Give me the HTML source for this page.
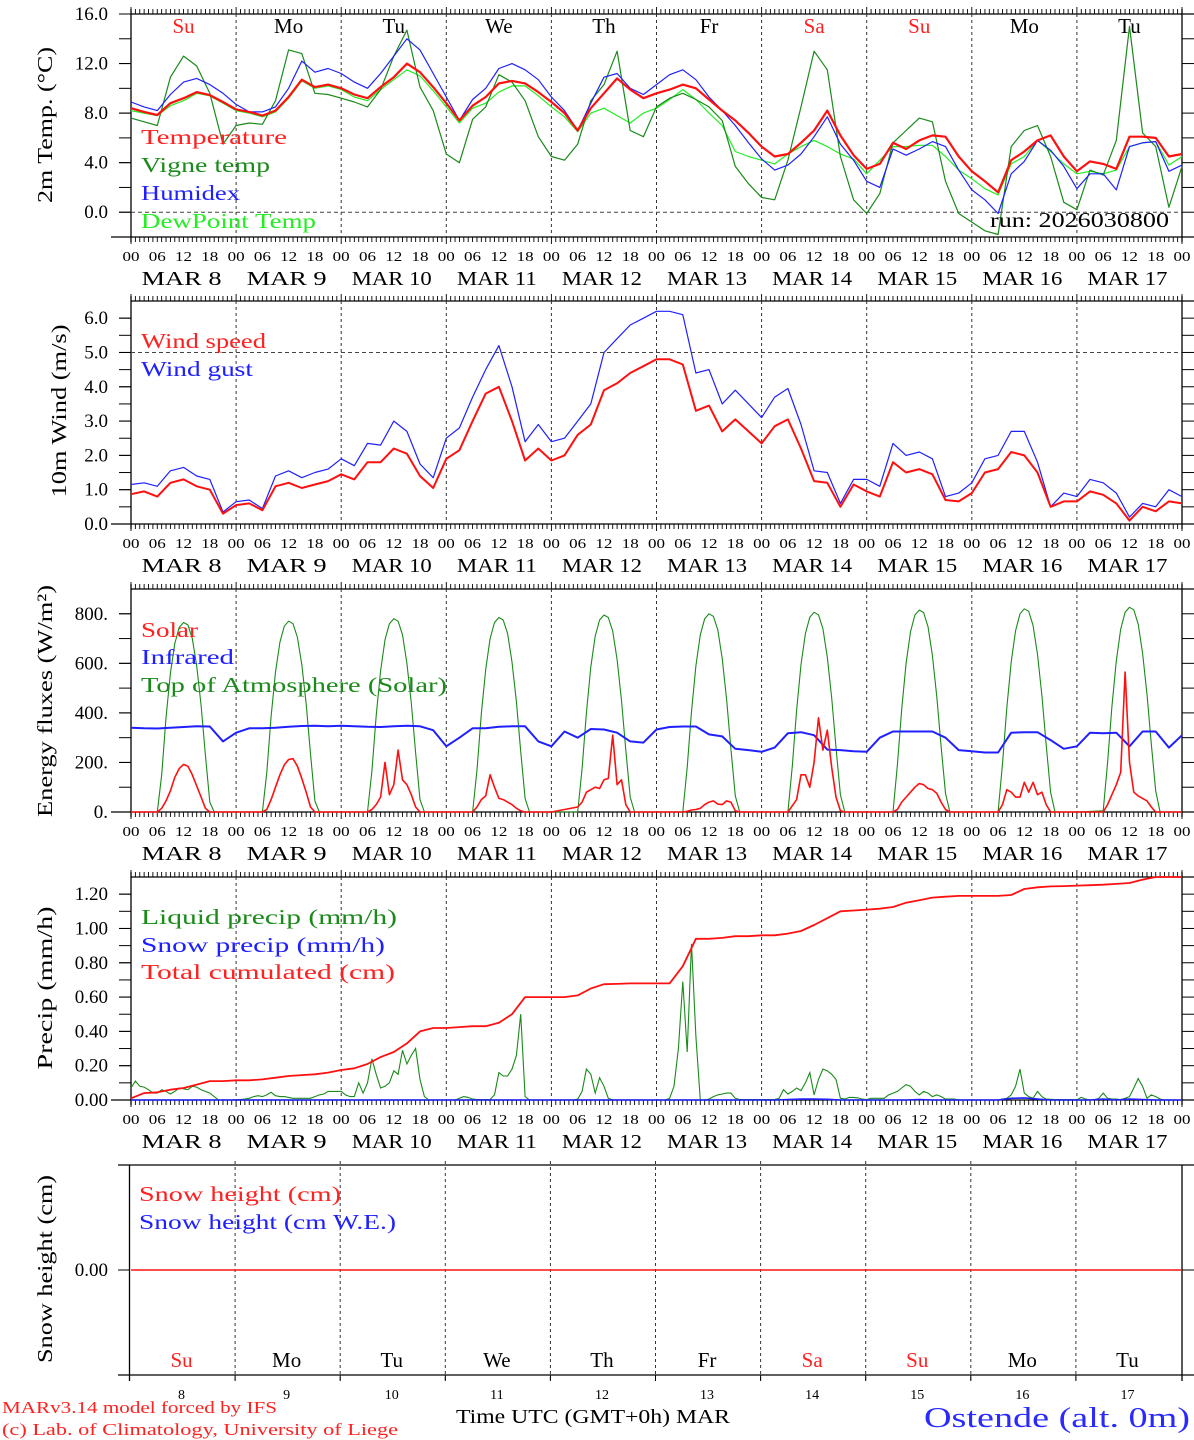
<!DOCTYPE html>
<html><head><meta charset="utf-8"><title>Meteogram Ostende</title>
<style>
html,body{margin:0;padding:0;background:#fff;}
svg{display:block;font-family:"Liberation Serif","DejaVu Serif",serif;}
</style></head>
<body>
<svg id="chart" xmlns="http://www.w3.org/2000/svg" width="1194" height="1440" viewBox="0 0 1194 1440"></svg>
<script>
// ---------- DATA ----------
const dayNames = ["Su","Mo","Tu","We","Th","Fr","Sa","Su","Mo","Tu"];
const dayNums = ["8","9","10","11","12","13","14","15","16","17"];
const hourTicks = ["00","06","12","18"];
// 3-hourly series (81 points, Mar 8 00h .. Mar 18 00h)
const temperature = [8.4,8.1,7.85,8.8,9.2,9.7,9.45,8.9, 8.3,8.1,7.8,8.2,9.3,10.7,10.1,10.3, 10.0,9.5,9.2,10.1,10.9,12.0,11.3,10.1, 8.8,7.4,8.6,9.3,10.4,10.6,10.4,9.7, 8.9,8.0,6.6,8.4,9.6,10.8,9.9,9.2, 9.6,9.9,10.3,10.0,9.1,8.2,7.4,6.4, 5.3,4.5,4.7,5.6,6.6,8.2,6.2,4.6, 3.5,3.9,5.6,5.1,5.8,6.2,6.1,4.5, 3.3,2.5,1.6,4.2,4.9,5.8,6.2,4.5, 3.3,4.1,3.9,3.5,6.1,6.1,6.0,4.5, 4.7];
const humidex = [8.9,8.5,8.2,9.5,10.5,10.8,10.3,9.6, 8.7,8.1,8.1,8.5,10.0,12.2,11.3,11.6, 11.2,10.5,10.0,11.2,12.6,14.0,13.1,11.2, 9.3,7.4,9.1,10.0,11.6,12.0,11.5,10.7, 9.3,8.2,6.6,8.8,10.9,11.2,10.0,9.5, 10.3,11.1,11.5,10.7,9.3,8.2,7.0,5.6, 4.3,3.4,3.8,4.7,6.1,7.7,5.5,4.2, 2.5,2.0,5.1,4.6,5.1,5.7,5.3,3.4, 1.8,1.0,-0.1,3.1,4.1,5.8,5.0,3.7, 1.9,3.1,3.1,1.8,5.3,5.6,5.7,3.3, 3.8];
const dewpoint = [8.2,8.0,7.8,8.6,9.0,9.6,9.4,8.8, 8.2,8.0,7.7,8.1,9.2,10.6,10.0,10.2, 9.9,9.3,9.0,9.9,10.7,11.5,11.0,9.8, 8.5,7.2,8.4,8.8,9.7,10.2,10.2,9.4, 8.5,7.7,6.5,8.0,8.4,7.8,7.2,8.0, 8.4,9.1,9.9,9.1,8.0,7.0,4.9,4.5, 4.2,3.9,4.7,5.3,5.8,5.3,4.7,4.3, 3.1,4.2,5.3,5.3,5.4,5.4,4.5,3.4, 2.7,1.9,1.4,3.9,4.5,5.8,4.9,3.9, 3.1,3.3,3.1,3.4,5.3,5.6,5.7,3.8, 4.5];
const vigne = [7.6,7.3,7.0,10.9,12.6,11.8,9.6,5.5, 7.0,7.2,7.1,9.0,13.1,12.8,9.6,9.5, 9.2,8.9,8.5,9.9,12.6,14.7,10.1,8.2, 4.7,4.0,7.5,8.5,11.1,10.5,9.0,6.1, 4.5,4.2,5.5,9.0,10.3,13.0,6.6,6.1, 8.5,9.2,9.6,9.1,8.5,7.4,3.7,2.3, 1.2,1.0,4.2,8.5,13.0,11.5,4.5,1.0, -0.1,1.5,5.6,6.6,7.6,7.3,2.5,-0.1, -0.8,-1.5,-1.8,5.3,6.6,7.0,4.5,0.8, 0.2,3.4,3.0,5.8,15.0,6.4,5.3,0.4, 3.7];
const windSpeed = [0.87,0.95,0.8,1.2,1.3,1.1,1.0,0.3, 0.55,0.6,0.4,1.1,1.2,1.05,1.15,1.25, 1.45,1.3,1.8,1.8,2.2,2.05,1.4,1.05, 1.9,2.15,3.0,3.8,4.0,3.0,1.85,2.2, 1.85,2.0,2.6,2.9,3.9,4.1,4.4,4.6, 4.8,4.8,4.65,3.3,3.45,2.7,3.05,2.7, 2.35,2.85,3.05,2.2,1.25,1.2,0.5,1.15, 0.95,0.8,1.8,1.5,1.6,1.45,0.7,0.66, 0.9,1.5,1.6,2.1,2.0,1.5,0.5,0.66, 0.66,0.95,0.85,0.6,0.1,0.5,0.37,0.66, 0.6];
const windGust = [1.15,1.2,1.1,1.55,1.65,1.4,1.3,0.35, 0.65,0.7,0.45,1.4,1.55,1.35,1.5,1.6, 1.9,1.7,2.35,2.3,3.0,2.7,1.75,1.35, 2.5,2.8,3.7,4.5,5.2,4.0,2.4,2.9, 2.4,2.5,3.0,3.5,5.0,5.4,5.8,6.0, 6.2,6.2,6.1,4.4,4.5,3.5,3.9,3.5, 3.1,3.7,3.95,2.9,1.55,1.5,0.6,1.3, 1.3,1.1,2.35,2.0,2.1,1.9,0.8,0.9, 1.2,1.9,2.0,2.7,2.7,1.8,0.5,0.9, 0.8,1.3,1.2,0.9,0.2,0.6,0.5,1.0, 0.8];
const infrared = [340,338,337,340,343,346,345,285, 320,338,338,340,344,347,348,346, 348,346,344,343,346,348,346,330, 265,300,338,338,344,346,346,285, 265,325,300,335,333,320,285,280, 333,343,345,345,313,305,255,250, 243,260,318,322,310,252,250,245, 243,300,325,325,325,325,300,250, 245,240,240,320,322,322,290,255, 265,320,318,320,265,325,325,260, 310];
const cumPrecip = [0.01,0.04,0.045,0.06,0.07,0.09,0.11,0.11, 0.115,0.115,0.12,0.13,0.14,0.145,0.15,0.16, 0.175,0.185,0.21,0.25,0.28,0.33,0.40,0.42, 0.42,0.425,0.43,0.43,0.45,0.50,0.60,0.60, 0.60,0.60,0.61,0.65,0.675,0.677,0.68,0.68, 0.68,0.68,0.78,0.94,0.94,0.945,0.955,0.955, 0.96,0.96,0.97,0.985,1.02,1.06,1.10,1.105, 1.11,1.115,1.125,1.15,1.165,1.18,1.185,1.19, 1.19,1.19,1.19,1.195,1.23,1.24,1.245,1.247, 1.25,1.252,1.255,1.26,1.265,1.285,1.30,1.30, 1.30];
const snowPrecip = [0,0,0,0,0,0,0,0, 0,0,0,0,0,0,0,0, 0,0,0,0,0,0,0,0, 0,0,0,0,0,0,0,0, 0,0,0,0,0,0,0,0, 0,0,0,0,0,0,0,0, 0,0,0.003,0.005,0.005,0.004,0,0, 0,0,0,0,0.003,0,0,0, 0,0,0,0.01,0.012,0.005,0,0, 0,0,0.005,0,0.005,0.003,0,0, 0];
const snowHeight = [0,0,0,0,0,0,0,0,0,0,0];
// hourly liquid precip per day (24 values each)
const liquidPrecip = [
 [0.07,0.11,0.08,0.075,0.06,0.04,0.04,0.06,0.05,0.035,0.05,0.07,0.065,0.06,0.08,0.075,0.06,0.05,0.04,0.02,0,0,0,0],
 [0.003,0.003,0.005,0.01,0.02,0.025,0.02,0.03,0.045,0.025,0.02,0.02,0.015,0.01,0.01,0.01,0.01,0.01,0.02,0.03,0.035,0.05,0.05,0.05],
 [0.05,0.03,0.02,0.02,0.10,0.04,0.10,0.24,0.15,0.07,0.08,0.10,0.17,0.15,0.29,0.21,0.26,0.30,0.12,0.02,0,0,0,0],
 [0,0,0,0.01,0.02,0.015,0.005,0.003,0.003,0.003,0.003,0.03,0.16,0.14,0.14,0.18,0.26,0.50,0.02,0,0,0,0,0],
 [0,0,0,0,0,0,0.005,0.05,0.18,0.15,0.04,0.13,0.08,0.01,0,0,0,0,0,0,0,0,0,0],
 [0,0,0,0.01,0.08,0.3,0.69,0.28,0.91,0.37,0,0,0.005,0.02,0.03,0.035,0.04,0.04,0.01,0.003,0.003,0.003,0.003,0.003],
 [0.003,0.003,0.003,0.003,0.01,0.06,0.035,0.05,0.07,0.055,0.1,0.16,0.03,0.12,0.18,0.17,0.15,0.12,0.01,0.005,0.015,0.015,0.012,0.005],
 [0.002,0.01,0.01,0.01,0.01,0.03,0.04,0.05,0.07,0.09,0.08,0.05,0.03,0.05,0.04,0.02,0.03,0.02,0.005,0.005,0.005,0,0,0],
 [0,0,0,0,0,0,0,0.005,0.01,0.03,0.08,0.18,0.04,0.02,0.01,0.05,0.02,0.005,0.004,0.003,0.003,0.003,0.003,0.003],
 [0.002,0.015,0.005,0,0,0.01,0.04,0.01,0.005,0.005,0.002,0.01,0.02,0.07,0.125,0.08,0.01,0.03,0.02,0.005,0,0,0,0]
];
// hourly daytime values per day, hours 06..19 (zero outside)
const solarHours = [6,7,8,9,10,11,12,13,14,15,16,17,18,19];
const solar = [
 [0,15,45,85,140,175,192,185,150,105,60,15,0,0],
 [0,10,50,100,150,190,212,215,185,135,80,20,0,0],
 [0,10,30,60,200,70,110,250,130,110,70,20,0,0],
 [0,20,50,65,150,100,55,50,40,30,15,5,0,0],
 [20,40,80,90,100,95,130,135,310,110,130,30,0,0],
 [0,3,8,10,15,30,40,45,32,30,45,40,5,0],
 [0,25,50,150,150,100,200,380,250,330,180,60,5,0],
 [0,10,40,60,80,100,115,110,95,90,75,40,10,0],
 [0,30,90,80,60,60,120,80,120,70,80,30,0,0],
 [0,30,70,110,160,565,200,80,65,55,45,20,0,0]
];
const toa = [
 [0,150,380,560,680,745,765,755,700,590,430,230,40,0],
 [0,160,385,565,685,750,770,760,705,595,435,235,45,0],
 [0,165,390,570,695,760,780,770,715,600,440,240,50,0],
 [0,170,395,575,700,765,785,775,720,605,445,245,55,0],
 [0,175,400,585,710,775,795,785,730,615,450,250,60,0],
 [0,180,405,590,715,780,800,790,735,620,455,255,65,0],
 [0,185,410,595,720,786,806,796,740,625,460,260,70,0],
 [0,190,415,600,727,795,815,805,748,632,465,265,75,0],
 [0,195,420,605,732,800,820,810,752,636,470,270,80,0],
 [5,200,425,610,738,806,826,816,758,640,475,275,85,0]
];
const p1Ticks = ["0.0","4.0","8.0","12.0","16.0"];
const p2Ticks = ["0.0","1.0","2.0","3.0","4.0","5.0","6.0"];
const p3Ticks = ["0.","200.","400.","600.","800."];
const p4Ticks = ["0.00","0.20","0.40","0.60","0.80","1.00","1.20"];

// ---------- LAYOUT ----------
const NS="http://www.w3.org/2000/svg";
const svg=document.getElementById('chart');
const X0=131, X1=1182, HOURS=240;
function xs(h){return X0+h*(X1-X0)/HOURS;}
function mk(tag,attrs,parent){const e=document.createElementNS(NS,tag);for(const k in attrs)e.setAttribute(k,attrs[k]);(parent||svg).appendChild(e);return e;}
function txt(x,y,s,o,parent){o=o||{};const e=mk('text',{x:x,y:y,'font-size':o.size||18,fill:o.fill||'#000','text-anchor':o.anchor||'start'},parent);
 if(o.len){e.setAttribute('textLength',o.len);e.setAttribute('lengthAdjust','spacingAndGlyphs');}
 if(o.rot)e.setAttribute('transform','rotate(-90 '+x+' '+y+')');
 e.textContent=s;return e;}
function line(x1,y1,x2,y2,st,w,dash,parent){const e=mk('line',{x1:x1,y1:y1,x2:x2,y2:y2,stroke:st||'#000','stroke-width':w||1},parent);if(dash)e.setAttribute('stroke-dasharray',dash);return e;}

const panels=[
 {top:14,bottom:237,min:-2,max:16},
 {top:301,bottom:524,min:0,max:6.5},
 {top:589,bottom:812,min:0,max:900},
 {top:877,bottom:1100,min:0,max:1.3}
];
function ys(p,v){return p.bottom-(v-p.min)*(p.bottom-p.top)/(p.max-p.min);}

function frame(p,idx,majorVals,labels,minorStep,gridVal){
 const g=mk('g',{});
 
 
 // frame
 line(X0,p.top,X1+12,p.top,'#000',1.3,null,g);
 line(X0-20,p.bottom,X1+12,p.bottom,'#000',1.3,null,g);
 line(X0,p.top-5,X0,p.bottom+5,'#000',1.3,null,g);
 line(X1,p.top-5,X1,p.bottom+5,'#000',1.3,null,g);
 // hourly ticks
 for(let h=0;h<=HOURS;h++){const x=xs(h);const L=(h%24==0)?7:5;
  line(x,p.top-L,x,p.top,'#000',0.9,null,g);line(x,p.bottom,x,p.bottom+L,'#000',0.9,null,g);}
 // day lines
 for(let d=1;d<10;d++){line(xs(d*24),p.top,xs(d*24),p.bottom,'#333',1,'3,3',g);}
 // y ticks
 for(let v=p.min;v<=p.max+1e-9;v+=minorStep){const y=ys(p,v);if(y<p.top+0.5||y>p.bottom-0.5)continue;
  line(X0-12,y,X0,y,'#000',1,null,g);line(X1,y,X1+12,y,'#000',1,null,g);}
 // labels
 majorVals.forEach((v,i)=>{const y=ys(p,v);const t=txt(108,y+6,labels[i],{size:19,anchor:'end'},g);
  
  line(X0-12,y,X0,y,'#000',1,null,g);});
 if(gridVal!==null)line(X0,ys(p,gridVal),X1,ys(p,gridVal),'#444',1,'4,3',g);
 // hour labels and date labels
 const hy=p.bottom+24, my=p.bottom+48;
 for(let d=0;d<10;d++){
  for(let k=0;k<4;k++){const t=txt(xs(d*24+k*6),hy,hourTicks[k],{size:14,anchor:'middle',len:17},g);
   }
  const m=txt(xs(d*24+12)-2,my,'MAR'+(dayNums[d].length==1?'  ':' ')+dayNums[d],{size:20,anchor:'middle',len:80},g);
  
 }
 const t=txt(xs(240),hy,'00',{size:14,anchor:'middle',len:17},g);
 
 return g;
}
function series3h(p,arr,color,w,name){
 const pts=arr.map((v,i)=>xs(i*3).toFixed(1)+','+ys(p,v).toFixed(1)).join(' ');
 const e=mk('polyline',{points:pts,fill:'none',stroke:color,'stroke-width':w,'stroke-linejoin':'round'});
 
 
 return e;
}
function seriesDaily(p,days,hrs,color,w,name){
 const pts=[];
 for(let d=0;d<10;d++){
  if(d==0)pts.push([0,0]);
  else pts.push([d*24,0]);
  hrs.forEach((h,i)=>pts.push([d*24+h,days[d][i]]));
 }
 pts.push([240,0]);
 const s=pts.map(q=>xs(q[0]).toFixed(1)+','+ys(p,q[1]).toFixed(1)).join(' ');
 const e=mk('polyline',{points:s,fill:'none',stroke:color,'stroke-width':w,'stroke-linejoin':'round'});
 
 
 return e;
}
function legend(x,y,s,color,len,name){const t=txt(x,y,s,{size:21,fill:color,len:len});
 return t;}
function ytitle(x,y,s,len,name){const t=txt(x,y,s,{size:21,anchor:'middle',rot:true,len:len});
 return t;}

// ---- Panel 1 ----
const P1=panels[0];
frame(P1,0,[0,4,8,12,16],p1Ticks,2,0);
dayNames.forEach((n,d)=>{const red=(n=='Su'||n=='Sa');const t=txt(xs(d*24+12),33,n,{size:21,anchor:'middle',fill:red?'#ff2020':'#000'});
 });
series3h(P1,dewpoint,'#22ee22',1.2,'dewpoint-line');
series3h(P1,vigne,'#1a8a1a',1.2,'vigne-temp-line');
series3h(P1,humidex,'#2020ff',1.2,'humidex-line');
series3h(P1,temperature,'#ff1010',2.2,'temperature-line');
legend(141,144,'Temperature','#ff2020',146,'legend-temperature');
legend(141,172,'Vigne temp','#1a8a1a',129,'legend-vigne-temp');
legend(141,200,'Humidex','#2020ff',99,'legend-humidex');
legend(141,228,'DewPoint Temp','#22ee22',175,'legend-dewpoint');
ytitle(52,125,'2m Temp. (°C)',156,'y-axis-title-temp');
{const t=txt(990,227,'run: 2026030800',{size:21,len:179});}

// ---- Panel 2 ----
const P2=panels[1];
frame(P2,1,[0,1,2,3,4,5,6],p2Ticks,0.5,5);
series3h(P2,windGust,'#2020ff',1.2,'wind-gust-line');
series3h(P2,windSpeed,'#ff1010',2,'wind-speed-line');
legend(141,348,'Wind speed','#ff2020',125,'legend-wind-speed');
legend(141,376,'Wind gust','#2020ff',112,'legend-wind-gust');
ytitle(66,411,'10m Wind (m/s)',173,'y-axis-title-wind');

// ---- Panel 3 ----
const P3=panels[2];
frame(P3,2,[0,200,400,600,800],p3Ticks,100,null);
seriesDaily(P3,toa,solarHours,'#1a8a1a',1.1,'toa-solar-line');
series3h(P3,infrared,'#2020ff',2,'infrared-line');
seriesDaily(P3,solar,solarHours,'#ff1010',1.6,'solar-line');
legend(141,637,'Solar','#ff2020',57,'legend-solar');
legend(141,664,'Infrared','#2020ff',93,'legend-infrared');
legend(141,692,'Top of Atmosphere (Solar)','#1a8a1a',306,'legend-toa');
ytitle(52,701,'Energy fluxes (W/m²)',232,'y-axis-title-energy');

// ---- Panel 4 ----
const P4=panels[3];
frame(P4,3,[0,0.2,0.4,0.6,0.8,1.0,1.2],p4Ticks,0.1,null);
{const pts=[];liquidPrecip.forEach((day,d)=>day.forEach((v,h)=>pts.push(xs(d*24+h).toFixed(1)+','+ys(P4,v).toFixed(1))));
 pts.push(xs(240).toFixed(1)+','+ys(P4,0).toFixed(1));
 const e=mk('polyline',{points:pts.join(' '),fill:'none',stroke:'#1a8a1a','stroke-width':1.1});
 
 }
series3h(P4,snowPrecip,'#2020ff',1.6,'snow-precip-line');
series3h(P4,cumPrecip,'#ff1010',1.8,'cumulated-precip-line');
legend(141,924,'Liquid precip (mm/h)','#1a8a1a',256,'legend-liquid-precip');
legend(141,952,'Snow precip (mm/h)','#2020ff',244,'legend-snow-precip');
legend(141,979,'Total cumulated (cm)','#ff2020',254,'legend-total-cumulated');
ytitle(52,988,'Precip (mm/h)',163,'y-axis-title-precip');

// ---- Panel 5 ----
{const g=mk('g',{});
 const T=1165,B=1375,Z=1270,L=129.5;
 line(118,T,1194,T,'#000',1.3,null,g);line(118,B,1194,B,'#000',1.3,null,g);
 line(L,T,L,B+6,'#000',1.3,null,g);line(X1,T,X1,B+6,'#000',1.3,null,g);
 line(118,Z,L,Z,'#000',1,null,g);line(X1,Z,X1+12,Z,'#000',1,null,g);
 for(let d=1;d<10;d++){const x=xs(d*24)-1;line(x,T-4,x,B+6,'#333',1,'3,3',g);line(x,B,x,B+6,'#000',1,null,g);}
 const yl=txt(108,Z+6,'0.00',{size:19,anchor:'end'},g);
 const pts=snowHeight.map((v,i)=>(xs(i*24)).toFixed(1)+','+(Z-v*100).toFixed(1)).join(' ');
 const e=mk('polyline',{points:pts,fill:'none',stroke:'#ff1010','stroke-width':1.6},g);
 
 
 dayNames.forEach((n,d)=>{const red=(n=='Su'||n=='Sa');const t=txt(xs(d*24+12)-2,1367,n,{size:21,anchor:'middle',fill:red?'#ff2020':'#000'},g);
  
  const n2=txt(xs(d*24+12)-2,1399,dayNums[d],{size:14,anchor:'middle'},g);
  });
}
legend(139,1201,'Snow height (cm)','#ff2020',202,'legend-snow-height');
legend(139,1229,'Snow height (cm W.E.)','#2020ff',257,'legend-snow-height-we');
ytitle(52,1269,'Snow height (cm)',188,'y-axis-title-snow');

// ---- Footer ----
{let t=txt(2,1413,'MARv3.14 model forced by IFS',{size:17,fill:'#ff2020',len:275});
 t=txt(2,1435,'(c) Lab. of Climatology, University of Liege',{size:17,fill:'#ff2020',len:396});
 t=txt(456,1423,'Time UTC (GMT+0h) MAR',{size:20,len:274});
 t=txt(924,1427,'Ostende (alt. 0m)',{size:29,fill:'#2a2aff',len:266});}
</script>
</body></html>
